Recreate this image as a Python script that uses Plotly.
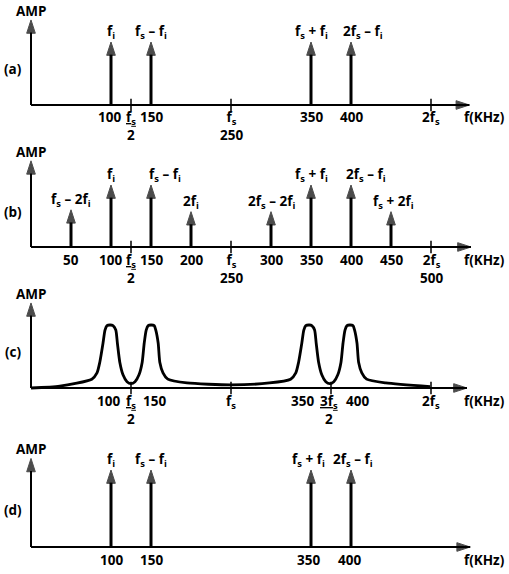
import plotly.graph_objects as go

# ---------------- data ----------------
a_freq = [100, 150, 350, 400]
a_amp = [1, 1, 1, 1]
a_lab = ["f<sub>i</sub>", "f<sub>s</sub> – f<sub>i</sub>", "f<sub>s</sub> + f<sub>i</sub>",
         "2f<sub>s</sub> – f<sub>i</sub>"]

b_freq = [50, 100, 150, 200, 300, 350, 400, 450]
b_amp = [0.6, 1, 1, 0.57, 0.57, 1, 1, 0.57]
b_lab = ["f<sub>s</sub> – 2f<sub>i</sub>", "f<sub>i</sub>", "f<sub>s</sub> – f<sub>i</sub>",
         "2f<sub>i</sub>", "2f<sub>s</sub> – 2f<sub>i</sub>", "f<sub>s</sub> + f<sub>i</sub>",
         "2f<sub>s</sub> – f<sub>i</sub>", "f<sub>s</sub> + 2f<sub>i</sub>"]

c_freq = [0, 36, 76, 82.5, 86, 90, 92.5, 95, 99, 102.5, 106, 108, 111, 115, 120, 125, 130,
          135, 139, 141.5, 144, 146.5, 150, 154, 156, 159, 161, 165, 171, 195, 250, 298,
          324.5, 331, 334.5, 338.5, 341, 343.5, 348, 351, 354.5, 356.5, 359.5, 363.5, 368.5,
          373.5, 378.5, 383.5, 387.5, 390, 392.5, 395, 398.5, 402.5, 404.5, 407.5, 409.5,
          413.5, 419.5, 443.5, 499]
c_amp = [0, 0.03, 0.14, 0.24, 0.41, 0.71, 0.92, 0.99, 1.0, 0.99, 0.92, 0.71, 0.41, 0.21, 0.10,
         0.07, 0.10, 0.21, 0.41, 0.71, 0.92, 0.99, 1.0, 0.99, 0.92, 0.71, 0.41, 0.24, 0.14,
         0.08, 0.05, 0.08, 0.14, 0.24, 0.41, 0.71, 0.92, 0.99, 1.0, 0.99, 0.92, 0.71, 0.41,
         0.21, 0.10, 0.07, 0.10, 0.21, 0.41, 0.71, 0.92, 0.99, 1.0, 0.99, 0.92, 0.71, 0.41,
         0.24, 0.14, 0.08, 0.02]

d_freq = [100, 150, 350, 400]
d_amp = [1, 1, 1, 1]
d_lab = ["f<sub>i</sub>", "f<sub>s</sub> – f<sub>i</sub>", "f<sub>s</sub> + f<sub>i</sub>",
         "2f<sub>s</sub> – f<sub>i</sub>"]

FS2 = "<u>f<sub>s</sub></u><br>2"
a_tick_marks = [125, 250, 500]
a_tick_vals = [100, 125, 150, 250, 350, 400, 500]
a_tick_text = ["100", FS2, "150", "f<sub>s</sub><br>250", "350", "400", "2f<sub>s</sub>"]

b_tick_marks = [125, 250, 500]
b_tick_vals = [50, 100, 125, 150, 200, 250, 300, 350, 400, 450, 500]
b_tick_text = ["50", "100", FS2, "150", "200", "f<sub>s</sub><br>250", "300", "350", "400",
               "450", "2f<sub>s</sub><br>500"]

c_tick_marks = [125, 250, 375, 500]
c_tick_vals = [100, 125, 150, 250, 350, 375, 400, 500]
c_tick_text = ["100", FS2, "150", "f<sub>s</sub>", "350", "<u>3f<sub>s</sub></u><br>2", "400",
               "2f<sub>s</sub>"]

d_tick_marks = []
d_tick_vals = [100, 150, 350, 400]
d_tick_text = ["100", "150", "350", "400"]

panel_names = ["(a)", "(b)", "(c)", "(d)"]
x_unit = "f(KHz)"
y_unit = "AMP"

# ---------------- styling / layout ----------------
W, H = 509, 574
X0PX, PXPER = 31, 0.8
XR = [(0 - X0PX) / PXPER, (W - X0PX) / PXPER]
FONT = dict(family="Open Sans, Lato, sans-serif", size=13.5, color="black", weight="bold")
INK = "black"

panels = [
    dict(top=0, bottom=143, base=105, unit=63, ytop=1.35, xend=548, label_y=0.57, tick_y=-1),
    dict(top=143, bottom=290, base=247, unit=62, ytop=1.39, xend=550, label_y=0.56, tick_y=-2),
    dict(top=290, bottom=430, base=388, unit=63, ytop=1.35, xend=545, label_y=0.57, tick_y=-2),
    dict(top=430, bottom=574, base=547, unit=77, ytop=1.15, xend=549, label_y=0.48, tick_y=-2),
]
label_dx = [
    [0, 0, 0, 12],
    [0, 0, 14, 0, 0, 0, 15, 2],
    [],
    [0, 0, -3, 2],
]
tick_dx = [
    [-2, 0, 0, 0, 0, 0, 0],
    [0, -1, 0, 0, 0, 0, 0, 0, 0, 0, 0],
    [-3, 0, 3, 0, -9, -2, 6, 0],
    [0, 0, -3, -2],
]

spectra = [(a_freq, a_amp, a_lab), (b_freq, b_amp, b_lab), None, (d_freq, d_amp, d_lab)]
ticks = [(a_tick_marks, a_tick_vals, a_tick_text), (b_tick_marks, b_tick_vals, b_tick_text),
         (c_tick_marks, c_tick_vals, c_tick_text), (d_tick_marks, d_tick_vals, d_tick_text)]

fig = go.Figure()
annotations = []
layout = {}
HEAD = dict(color=INK, line=dict(color=INK, width=1))

for i, p in enumerate(panels):
    sfx = "" if i == 0 else str(i + 1)
    xa, ya = "x" + sfx, "y" + sfx
    layout["xaxis" + sfx] = dict(domain=[0, 1], range=XR, visible=False, fixedrange=True,
                                 anchor=ya)
    layout["yaxis" + sfx] = dict(domain=[1 - p["bottom"] / H, 1 - p["top"] / H],
                                 range=[(p["base"] - p["bottom"]) / p["unit"],
                                        (p["base"] - p["top"]) / p["unit"]],
                                 visible=False, fixedrange=True, anchor=xa)

    # axes with arrows
    fig.add_trace(go.Scatter(x=[0, 0], y=[0, p["ytop"]], mode="lines+markers", xaxis=xa,
                             yaxis=ya, line=dict(color=INK, width=2),
                             marker=dict(symbol="arrow", size=[0, 14], angle=0, **HEAD),
                             hoverinfo="skip", showlegend=False))
    fig.add_trace(go.Scatter(x=[0, p["xend"]], y=[0, 0], mode="lines+markers", xaxis=xa,
                             yaxis=ya, line=dict(color=INK, width=2),
                             marker=dict(symbol="arrow", size=[0, 14], angle=90, **HEAD),
                             hoverinfo="skip", showlegend=False))

    # spectral lines
    if spectra[i] is not None:
        fr, am, lb = spectra[i]
        xs, ys, sz = [], [], []
        for f, a in zip(fr, am):
            xs += [f, f, None]
            ys += [0, a, None]
            sz += [0, 14, 0]
        fig.add_trace(go.Scatter(x=xs, y=ys, mode="lines+markers", xaxis=xa, yaxis=ya,
                                 line=dict(color=INK, width=3),
                                 marker=dict(symbol="arrow", size=sz, angle=0, **HEAD),
                                 hoverinfo="skip", showlegend=False))
        for k, (f, a, t) in enumerate(zip(fr, am, lb)):
            annotations.append(dict(x=f, y=a, xref=xa, yref=ya, text=t, showarrow=False,
                                    xanchor="center", yanchor="middle",
                                    xshift=label_dx[i][k], yshift=10, font=FONT))
    else:
        fig.add_trace(go.Scatter(x=c_freq, y=c_amp, mode="lines", xaxis=xa, yaxis=ya,
                                 line=dict(color=INK, width=2.8, shape="spline", smoothing=0.6),
                                 hoverinfo="skip", showlegend=False))

    tm, tv, tt = ticks[i]
    if tm:
        fig.add_trace(go.Scatter(x=tm, y=[0] * len(tm), mode="markers", xaxis=xa, yaxis=ya,
                                 marker=dict(symbol="line-ns", size=9,
                                             line=dict(color=INK, width=1.5)),
                                 hoverinfo="skip", showlegend=False))
    for k, (v, t) in enumerate(zip(tv, tt)):
        annotations.append(dict(x=v, y=0, xref=xa, yref=ya, text=t, showarrow=False,
                                xanchor="center", yanchor="top", yshift=p["tick_y"],
                                xshift=tick_dx[i][k], font=FONT))
    # axis titles
    annotations.append(dict(x=567, y=0, xref=xa, yref=ya, text=x_unit, showarrow=False,
                            xanchor="center", yanchor="top", yshift=p["tick_y"], font=FONT))
    annotations.append(dict(x=0, y=p["ytop"], xref=xa, yref=ya, text=y_unit, showarrow=False,
                            xanchor="center", yanchor="bottom", yshift=-2, font=FONT))
    annotations.append(dict(x=13 / W, y=p["label_y"], xref="paper", yref=ya,
                            text=panel_names[i], showarrow=False, xanchor="center",
                            yanchor="middle", font=FONT))

fig.update_layout(width=W, height=H, margin=dict(l=0, r=0, t=0, b=0),
                  paper_bgcolor="white", plot_bgcolor="white",
                  annotations=annotations, showlegend=False, **layout)

fig.write_html("out.html")
